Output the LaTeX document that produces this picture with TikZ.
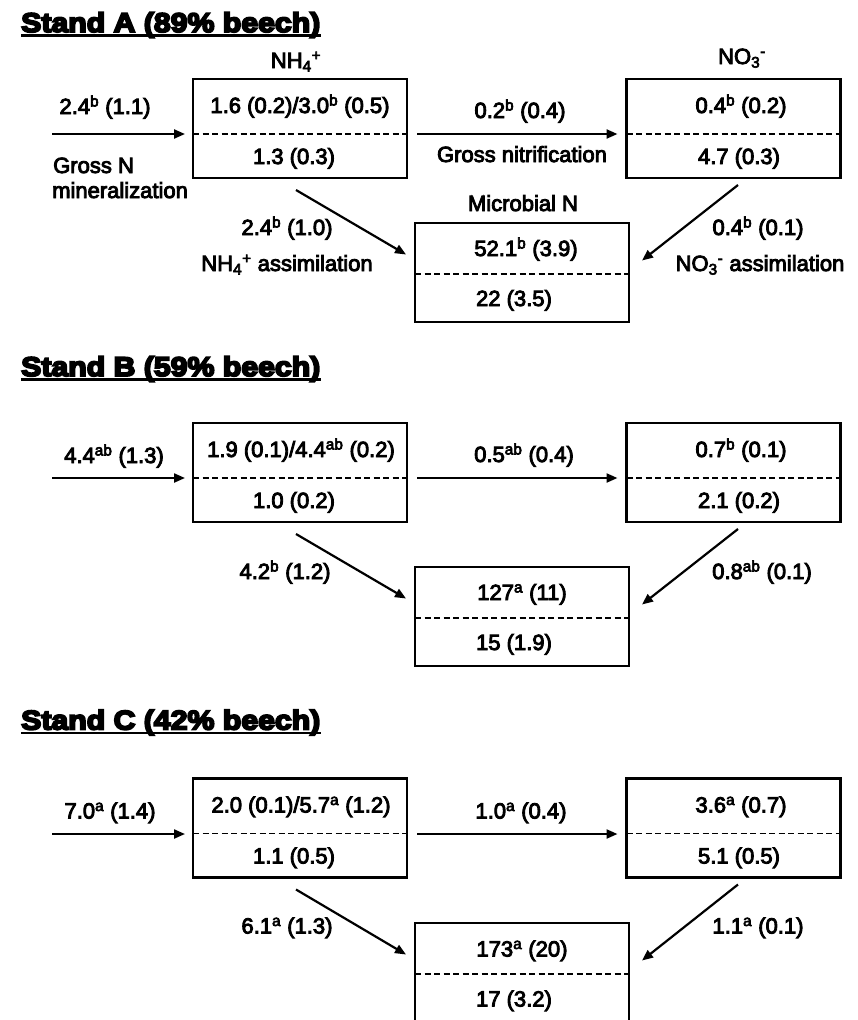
\documentclass[tikz,border=0pt]{standalone}
\usepackage{fontspec}
\setmainfont[FakeBold=4]{Liberation Sans}
\newfontfamily\titlefont[FakeStretch=1.12,FakeBold=7]{Liberation Sans}
\usetikzlibrary{arrows.meta}
\newcommand{\sps}[1]{\textsuperscript{#1}}
\newcommand{\NHf}{NH\textsubscript{4}\textsuperscript{+}}
\newcommand{\NOt}{NO\textsubscript{3}\textsuperscript{-}}
\tikzset{
  box/.style={draw, line width=2.8pt, minimum width=214pt, minimum height=99pt, inner sep=0pt, outer sep=0pt},
  sepline/.style={line width=1.7pt, dash pattern=on 6pt off 3.5pt},
  flow/.style={line width=2.2pt, -{Triangle[length=11pt,width=9pt]}},
  txt/.style={anchor=base, inner sep=0pt, font=\fontsize{22}{26}\selectfont},
  ltxt/.style={anchor=base west, inner sep=0pt, font=\fontsize{22}{26}\selectfont},
  ttl/.style={anchor=base west, inner sep=0pt, font=\fontsize{27}{30}\selectfont\titlefont\bfseries},
  uline/.style={line width=2.4pt},
}
\begin{document}
\begin{tikzpicture}[x=1pt,y=-1pt]
\useasboundingbox (0,0) rectangle (858,1020);
\begin{scope}
\clip (0,0) rectangle (858,1020);
% ---------------- Stand A ----------------
\node[ttl] (tA) at (21,32) {Stand A (89\% beech)};
\draw[uline] ([yshift=-3.5pt]tA.base west) -- ([yshift=-3.5pt]tA.base east);
\node[box] (nhA) at (300,128.5) {};
\node[box] (noA) at (733.5,128.5) {};
\node[box] (miA) at (522,272.5) {};
\draw[sepline] ([yshift=-5.5pt]nhA.west) -- ([yshift=-5.5pt]nhA.east);
\draw[sepline] ([yshift=-5.5pt]noA.west) -- ([yshift=-5.5pt]noA.east);
\draw[sepline] ([yshift=-1.5pt]miA.west) -- ([yshift=-1.5pt]miA.east);
\node[txt] (lnhA) at (296,68) {\NHf};
\node[txt] (lnoA) at (742,64) {\NOt};
\node[txt] (lmiA) at (523,211) {Microbial N};
\node[txt] (nhAu) at (300,113) {1.6 (0.2)/3.0\sps{b} (0.5)};
\node[txt] (nhAl) at (294,164) {1.3 (0.3)};
\node[txt] (noAu) at (741,113) {0.4\sps{b} (0.2)};
\node[txt] (noAl) at (739,164) {4.7 (0.3)};
\node[txt] (miAu) at (526,256) {52.1\sps{b} (3.9)};
\node[txt] (miAl) at (514,306) {22 (3.5)};
\coordinate (inA) at (52,134);
\draw[flow, shorten >=8pt] (inA) -- (nhA.west |- inA);
\node[txt] (fiA) at (105,114) {2.4\sps{b} (1.1)};
\node[ltxt] (gmA1) at (53,173) {Gross N};
\node[ltxt] (gmA2) at (52,198) {mineralization};
\draw[flow, shorten <=10pt, shorten >=9pt] (nhA.east |- inA) -- (noA.west |- inA);
\node[txt] (fnA) at (520,118) {0.2\sps{b} (0.4)};
\node[txt] (gnA) at (522,162) {Gross nitrification};
\draw[flow] ([xshift=-4pt,yshift=-12pt]nhA.south) -- ([xshift=-9pt,yshift=18pt]miA.west);
\node[txt] (faA) at (287,235) {2.4\sps{b} (1.0)};
\node[txt] (naA) at (287,271) {\NHf{} assimilation};
\draw[flow] ([xshift=4.5pt,yshift=-7pt]noA.south) -- ([xshift=13pt,yshift=12pt]miA.east);
\node[txt] (fbA) at (758,235) {0.4\sps{b} (0.1)};
\node[txt] (nbA) at (760,271) {\NOt{} assimilation};
% ---------------- Stand B ----------------
\begin{scope}[yshift=-344pt]
\node[ttl] (tB) at (21,32) {Stand B (59\% beech)};
\draw[uline] ([yshift=-3.5pt]tB.base west) -- ([yshift=-3.5pt]tB.base east);
\node[box] (nhB) at (300,128.5) {};
\node[box] (noB) at (733.5,128.5) {};
\node[box] (miB) at (522,272.5) {};
\draw[sepline] ([yshift=-5.5pt]nhB.west) -- ([yshift=-5.5pt]nhB.east);
\draw[sepline] ([yshift=-5.5pt]noB.west) -- ([yshift=-5.5pt]noB.east);
\draw[sepline] ([yshift=-1.5pt]miB.west) -- ([yshift=-1.5pt]miB.east);
\node[txt] (nhBu) at (301,113) {1.9 (0.1)/4.4\sps{ab} (0.2)};
\node[txt] (nhBl) at (294,164) {1.0 (0.2)};
\node[txt] (noBu) at (741,113) {0.7\sps{b} (0.1)};
\node[txt] (noBl) at (739,164) {2.1 (0.2)};
\node[txt] (miBu) at (522,256) {127\sps{a} (11)};
\node[txt] (miBl) at (514,306) {15 (1.9)};
\coordinate (inB) at (52,134);
\draw[flow, shorten >=8pt] (inB) -- (nhB.west |- inB);
\node[txt] (fiB) at (114,119) {4.4\sps{ab} (1.3)};
\draw[flow, shorten <=10pt, shorten >=9pt] (nhB.east |- inB) -- (noB.west |- inB);
\node[txt] (fnB) at (524,118) {0.5\sps{ab} (0.4)};
\draw[flow] ([xshift=-4pt,yshift=-12pt]nhB.south) -- ([xshift=-9pt,yshift=18pt]miB.west);
\node[txt] (faB) at (285,235) {4.2\sps{b} (1.2)};
\draw[flow] ([xshift=4.5pt,yshift=-7pt]noB.south) -- ([xshift=13pt,yshift=12pt]miB.east);
\node[txt] (fbB) at (762,235) {0.8\sps{ab} (0.1)};
\end{scope}
% ---------------- Stand C ----------------
\begin{scope}[yshift=-699.5pt]
\node[ttl] (tC) at (21,30) {Stand C (42\% beech)};
\draw[uline] ([yshift=-3.5pt]tC.base west) -- ([yshift=-3.5pt]tC.base east);
\node[box] (nhC) at (300,128.5) {};
\node[box] (noC) at (733.5,128.5) {};
\node[box] (miC) at (522,273) {};
\draw[sepline] ([yshift=-5.5pt]nhC.west) -- ([yshift=-5.5pt]nhC.east);
\draw[sepline] ([yshift=-5.5pt]noC.west) -- ([yshift=-5.5pt]noC.east);
\draw[sepline] ([yshift=-1.5pt]miC.west) -- ([yshift=-1.5pt]miC.east);
\node[txt] (nhCu) at (301,113) {2.0 (0.1)/5.7\sps{a} (1.2)};
\node[txt] (nhCl) at (294,164) {1.1 (0.5)};
\node[txt] (noCu) at (741,113) {3.6\sps{a} (0.7)};
\node[txt] (noCl) at (739,164) {5.1 (0.5)};
\node[txt] (miCu) at (522,257) {173\sps{a} (20)};
\node[txt] (miCl) at (514,307) {17 (3.2)};
\coordinate (inC) at (52,134.5);
\draw[flow, shorten >=8pt] (inC) -- (nhC.west |- inC);
\node[txt] (fiC) at (110,119) {7.0\sps{a} (1.4)};
\draw[flow, shorten <=10pt, shorten >=9pt] (nhC.east |- inC) -- (noC.west |- inC);
\node[txt] (fnC) at (521,119) {1.0\sps{a} (0.4)};
\draw[flow] ([xshift=-4pt,yshift=-12pt]nhC.south) -- ([xshift=-9pt,yshift=18pt]miC.west);
\node[txt] (faC) at (287,234) {6.1\sps{a} (1.3)};
\draw[flow] ([xshift=4.5pt,yshift=-7pt]noC.south) -- ([xshift=13pt,yshift=12pt]miC.east);
\node[txt] (fbC) at (758,234) {1.1\sps{a} (0.1)};
\end{scope}
\end{scope}
\end{tikzpicture}
\end{document}
